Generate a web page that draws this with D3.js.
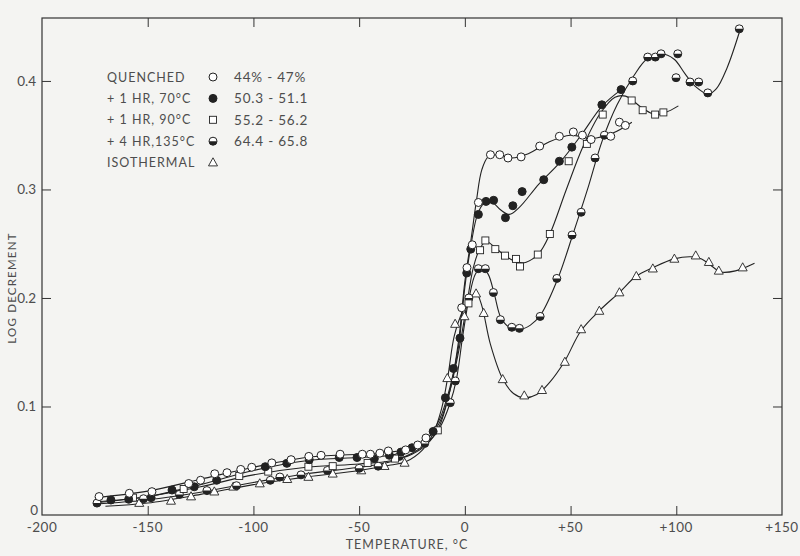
<!DOCTYPE html>
<html>
<head>
<meta charset="utf-8">
<script src="https://cdn.jsdelivr.net/npm/d3@7"></script>
<style>
  body { margin: 0; background: #f4f4f2; }
  svg { display: block; }
  text { font-family: Lato, "DejaVu Sans", sans-serif; fill: #4d4d4d; }
</style>
</head>
<body>
<div id="chart"></div>
<script>
// x ticks and their printed labels
const xTicks = [-200, -150, -100, -50, 0, 50, 100, 150];
const xTickLabels = ["-200", "-150", "-100", "-50", "0", "+50", "+100", "+150"];
const yTicks = [0, 0.1, 0.2, 0.3, 0.4];
const yTickLabels = ["0", "0.1", "0.2", "0.3", "0.4"];

// legend rows
const legendNames = ["QUENCHED", "+ 1 HR, 70°C", "+ 1 HR, 90°C", "+ 4 HR,135°C", "ISOTHERMAL"];
const legendRanges = ["44% - 47%", "50.3 - 51.1", "55.2 - 56.2", "64.4 - 65.8", ""];
const legendShapes = ["open", "solid", "square", "half", "triangle"];

// measured points [temperature, log decrement]
const quenchedPts = [[-173,0.017],[-158.7,0.020],[-148,0.0215],[-130.6,0.029],[-125,0.032],[-118.3,0.038],[-112.5,0.039],[-106,0.042],[-100.8,0.044],[-91.3,0.048],[-82.2,0.051],[-73.8,0.054],[-68,0.055],[-59,0.056],[-48.5,0.056],[-44.7,0.056],[-40.2,0.057],[-36.2,0.059],[-28,0.060],[-22.3,0.0645],[-18.4,0.071],[-1.5,0.191],[1,0.228],[3.5,0.249],[6.4,0.288],[12.1,0.332],[16.5,0.332],[20.4,0.329],[26.6,0.330],[35.4,0.340],[44.7,0.349],[51.3,0.353],[55.6,0.350],[59.7,0.346],[69,0.349],[73.1,0.362],[75.9,0.359]];
const hr70Pts = [[-167.4,0.0138],[-159,0.0145],[-148.4,0.016],[-138.5,0.023],[-128,0.026],[-117.4,0.032],[-94.4,0.0445],[-84.2,0.0476],[-73.6,0.051],[-59.4,0.053],[-51,0.053],[-42.8,0.052],[-35.7,0.055],[-30.2,0.058],[-25,0.062],[-15,0.077],[-9.2,0.108],[-5.4,0.135],[-2.3,0.163],[0.9,0.223],[2.8,0.245],[6.4,0.277],[10,0.289],[13.6,0.290],[19.2,0.274],[22.7,0.285],[27.1,0.298],[37.3,0.309],[44.7,0.326],[50.6,0.339],[64.8,0.378],[73.9,0.392]];
const hr90Pts = [[-157,0.016],[-133,0.024],[-106.7,0.036],[-93,0.040],[-74,0.0445],[-62.5,0.045],[-46,0.048],[-33,0.052],[-12.8,0.078],[1.7,0.195],[7.2,0.244],[9.7,0.253],[14.4,0.245],[19,0.239],[24.2,0.236],[26.1,0.229],[34.5,0.240],[40.2,0.259],[49.1,0.326],[57.7,0.342],[65.2,0.369],[78.9,0.382],[84.1,0.373],[90,0.369],[93.9,0.371]];
const hr135Pts = [[-174,0.011],[-152,0.015],[-135,0.019],[-122,0.0225],[-108,0.027],[-92,0.032],[-87.5,0.035],[-77.5,0.037],[-65,0.041],[-50,0.043],[-41,0.045],[-31,0.054],[-19,0.066],[-6.9,0.1035],[-4.5,0.1235],[1.9,0.200],[6.4,0.227],[9.7,0.227],[13.5,0.205],[16.8,0.180],[22.2,0.173],[25.8,0.172],[35.6,0.183],[43.5,0.218],[50.7,0.258],[55,0.279],[61.6,0.329],[66,0.350],[79.4,0.400],[86.5,0.422],[90.1,0.422],[92.8,0.425],[99.9,0.403],[100.7,0.425],[106.5,0.399],[110.6,0.399],[114.9,0.389],[129.8,0.448]];
const isoPts = [[-154,0.011],[-139,0.013],[-129.5,0.017],[-118.5,0.0215],[-109.5,0.026],[-97,0.029],[-84,0.033],[-74,0.035],[-62.5,0.038],[-49,0.041],[-38,0.045],[-28.5,0.048],[-8.3,0.126],[-4.6,0.176],[-0.2,0.183],[5.3,0.204],[8.9,0.186],[17.9,0.125],[28.1,0.110],[36.5,0.115],[47.3,0.141],[55,0.171],[63.6,0.188],[73.1,0.205],[81.1,0.220],[88.9,0.227],[99.1,0.236],[109.2,0.239],[115.4,0.233],[120.1,0.225],[131.4,0.228]];

// hand-drawn smooth curves
const quenchedCurve = [[-175,0.016],[-150,0.022],[-125,0.033],[-100,0.044],[-75,0.053],[-50,0.056],[-35,0.058],[-25,0.062],[-18,0.070],[-12,0.085],[-7,0.115],[-3,0.160],[0,0.215],[3,0.255],[5.5,0.290],[8,0.318],[11,0.330],[15,0.332],[22,0.329],[30,0.333],[40,0.344],[50,0.350],[60,0.347],[70,0.352],[79,0.362]];
const hr70Curve = [[-175,0.012],[-150,0.017],[-125,0.028],[-100,0.041],[-75,0.050],[-50,0.053],[-35,0.055],[-25,0.061],[-18,0.070],[-12,0.088],[-7,0.118],[-3,0.155],[0,0.210],[3,0.250],[6,0.277],[9,0.287],[13,0.288],[17,0.281],[21,0.277],[26,0.284],[35,0.305],[45,0.325],[55,0.350],[65,0.377],[74,0.392]];
const hr90Curve = [[-175,0.011],[-150,0.017],[-125,0.026],[-100,0.037],[-75,0.044],[-50,0.047],[-35,0.050],[-25,0.056],[-18,0.065],[-12,0.082],[-7,0.115],[-3,0.150],[1,0.195],[4,0.228],[7,0.245],[10,0.252],[14,0.247],[19,0.239],[25,0.233],[29,0.233],[35,0.241],[40,0.258],[48,0.300],[56,0.340],[64,0.370],[71,0.385],[76,0.386],[84,0.375],[90,0.369],[95,0.371],[101,0.377]];
const hr135Curve = [[-175,0.010],[-150,0.014],[-125,0.021],[-100,0.030],[-75,0.038],[-50,0.044],[-35,0.049],[-25,0.057],[-18,0.066],[-12,0.080],[-7,0.103],[-4,0.125],[-1,0.165],[2,0.200],[5,0.222],[8,0.228],[11,0.222],[14,0.203],[17,0.182],[21,0.173],[26,0.171],[31,0.175],[36,0.185],[44,0.218],[51,0.258],[58,0.300],[65,0.345],[72,0.378],[80,0.405],[86,0.420],[93,0.425],[99,0.420],[104,0.407],[109,0.395],[115,0.388],[119,0.393],[124,0.412],[130,0.446]];
const isoCurve = [[-170,0.008],[-150,0.011],[-125,0.019],[-100,0.028],[-75,0.035],[-50,0.041],[-35,0.046],[-28,0.049],[-20,0.060],[-15,0.075],[-11,0.098],[-8,0.128],[-5,0.165],[-1,0.188],[3,0.201],[5.3,0.205],[8,0.193],[12,0.158],[18,0.125],[23,0.112],[28,0.108],[34,0.111],[40,0.122],[47,0.141],[55,0.170],[64,0.189],[73,0.205],[81,0.220],[89,0.228],[99,0.236],[107,0.238],[112,0.236],[117,0.229],[121,0.224],[128,0.225],[137,0.232]];

const W = 800, H = 556;
const svg = d3.select("#chart").append("svg").attr("width", W).attr("height", H);

const x = d3.scaleLinear().domain([-200, 150]).range([42, 782]);
const y = d3.scaleLinear().domain([0, 0.458]).range([515, 18]);

const ink = "#222";

// frame
svg.append("rect")
  .attr("x", x(-200)).attr("y", y(0.458))
  .attr("width", x(150) - x(-200)).attr("height", y(0) - y(0.458))
  .attr("fill", "none").attr("stroke", "#333").attr("stroke-width", 1.2);

// axes: inward ticks, no domain line (frame does that)
const gx = svg.append("g").attr("transform", `translate(0,${y(0)})`)
  .call(d3.axisTop(x).tickValues(xTicks.slice(1, -1)).tickSize(9).tickFormat(""));
const gxTop = svg.append("g").attr("transform", `translate(0,${y(0.458)})`)
  .call(d3.axisBottom(x).tickValues(xTicks.slice(1, -1)).tickSize(9).tickFormat(""));
const gy = svg.append("g").attr("transform", `translate(${x(-200)},0)`)
  .call(d3.axisRight(y).tickValues(yTicks.slice(1)).tickSize(9).tickFormat(""));
const gyR = svg.append("g").attr("transform", `translate(${x(150)},0)`)
  .call(d3.axisLeft(y).tickValues(yTicks.slice(1)).tickSize(9).tickFormat(""));
[gx, gxTop, gy, gyR].forEach(g => {
  g.select(".domain").remove();
  g.selectAll("line").attr("stroke", "#333").attr("stroke-width", 1);
});

// tick labels
svg.append("g").selectAll("text").data(xTicks).join("text")
  .attr("x", d => x(d)).attr("y", 532)
  .attr("text-anchor", "middle").attr("font-size", 13.5)
  .attr("letter-spacing", 0.5)
  .text((d, i) => xTickLabels[i]);
svg.append("g").selectAll("text").data(yTicks).join("text")
  .attr("x", d => d === 0 ? 38 : 36).attr("y", d => y(d) + (d === 0 ? 0 : 5))
  .attr("text-anchor", "end").attr("font-size", 13.5)
  .text((d, i) => yTickLabels[i]);

// axis titles
svg.append("text").attr("x", 407).attr("y", 549)
  .attr("text-anchor", "middle").attr("font-size", 12.5)
  .attr("letter-spacing", 1).text("TEMPERATURE, °C");
svg.append("text").attr("transform", "translate(16,288) rotate(-90)")
  .attr("text-anchor", "middle").attr("font-size", 11.5)
  .attr("letter-spacing", 1.2).text("LOG DECREMENT");

// curves
const line = d3.line().x(d => x(d[0])).y(d => y(d[1])).curve(d3.curveCatmullRom.alpha(0.5));
const plot = svg.append("g");
[quenchedCurve, hr70Curve, hr90Curve, hr135Curve, isoCurve].forEach(c => {
  plot.append("path").attr("d", line(c)).attr("fill", "none")
    .attr("stroke", ink).attr("stroke-width", 1.1);
});

// marker drawing
const R = 4;
function drawMarker(g, shape) {
  if (shape === "open") {
    g.append("circle").attr("r", R).attr("fill", "#fff").attr("stroke", ink).attr("stroke-width", 1);
  } else if (shape === "solid") {
    g.append("circle").attr("r", R).attr("fill", ink).attr("stroke", ink).attr("stroke-width", 1);
  } else if (shape === "half") {
    g.append("circle").attr("r", R).attr("fill", "#fff").attr("stroke", ink).attr("stroke-width", 1);
    g.append("path").attr("d", `M${-R},0 A${R},${R} 0 0 0 ${R},0 Z`).attr("fill", ink);
  } else if (shape === "square") {
    g.append("rect").attr("x", -3.5).attr("y", -3.5).attr("width", 7).attr("height", 7)
      .attr("fill", "#fff").attr("stroke", ink).attr("stroke-width", 0.9);
  } else if (shape === "triangle") {
    g.append("path").attr("d", "M0,-4.8 L4.5,3.3 L-4.5,3.3 Z")
      .attr("fill", "#fff").attr("stroke", ink).attr("stroke-width", 0.9);
  }
}

const seriesPts = [
  [isoPts, "triangle"], [hr135Pts, "half"], [hr90Pts, "square"], [hr70Pts, "solid"], [quenchedPts, "open"]
];
seriesPts.forEach(([pts, shape]) => {
  plot.append("g").selectAll("g").data(pts).join("g")
    .attr("transform", d => `translate(${x(d[0])},${y(d[1])})`)
    .each(function () { drawMarker(d3.select(this), shape); });
});

// legend
const leg = svg.append("g");
legendNames.forEach((name, i) => {
  const yy = 77 + i * 21.4;
  leg.append("text").attr("x", 107).attr("y", yy + 4.5).attr("font-size", 12.5)
    .attr("letter-spacing", 1).text(name);
  const m = leg.append("g").attr("transform", `translate(213,${yy})`);
  drawMarker(m, legendShapes[i]);
  if (legendRanges[i]) {
    leg.append("text").attr("x", 234).attr("y", yy + 5).attr("font-size", 13.5)
      .attr("letter-spacing", 0.8).text(legendRanges[i]);
  }
});
</script>
</body>
</html>
